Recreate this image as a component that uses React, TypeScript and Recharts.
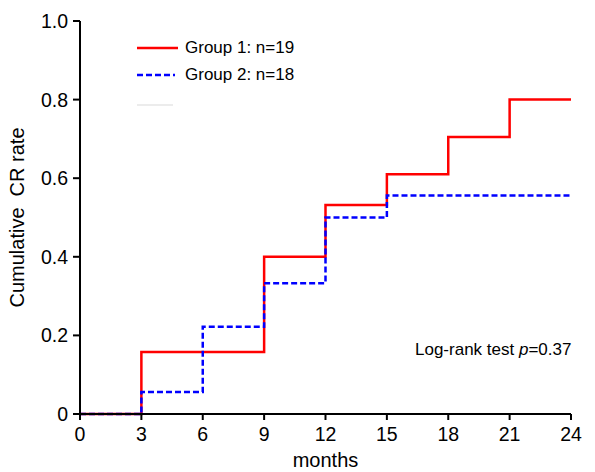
import { Label, Legend, Line, LineChart, XAxis, YAxis } from 'recharts';

// month grid where the Kaplan-Meier steps happen
const months = [0, 3, 6, 9, 12, 15, 18, 21, 24];
const group1 = [0, 0.158, 0.158, 0.4, 0.532, 0.61, 0.705, 0.8, 0.8];
const group2 = [0, 0.056, 0.222, 0.333, 0.5, 0.556, 0.556, 0.556, 0.556];
const yTicks = [0, 0.2, 0.4, 0.6, 0.8, 1.0];
const seriesNames = ['Group 1: n=19', 'Group 2: n=18'];

const data = months.map((m, i) => ({ month: m, g1: group1[i], g2: group2[i] }));

const FONT = '"Liberation Sans", Arial, sans-serif';

function LegendBox() {
  return (
    <div style={{ fontFamily: FONT, fontSize: 17, color: '#000', lineHeight: '27px' }}>
      <div style={{ display: 'flex', alignItems: 'center' }}>
        <svg width={48} height={10}>
          <line x1={0} y1={5} x2={41} y2={5} stroke="#ff0000" strokeWidth={2.5} />
        </svg>
        <span>{seriesNames[0]}</span>
      </div>
      <div style={{ display: 'flex', alignItems: 'center' }}>
        <svg width={48} height={10}>
          <line x1={0} y1={5} x2={38} y2={5} stroke="#0000ff" strokeWidth={2.5} strokeDasharray="6 3" />
        </svg>
        <span>{seriesNames[1]}</span>
      </div>
      <div style={{ display: 'flex', alignItems: 'center', height: 33 }}>
        <svg width={48} height={10}>
          <line x1={0} y1={5} x2={36} y2={5} stroke="#ececec" strokeWidth={2} />
        </svg>
      </div>
    </div>
  );
}

export default function App() {
  return (
    <div style={{ position: 'absolute', left: 0, top: 0, background: '#fff', fontFamily: FONT }}>
      <LineChart width={595} height={472} data={data} margin={{ top: 21, right: 24, bottom: 0, left: 0 }}>
        <XAxis
          dataKey="month"
          type="number"
          domain={[0, 24]}
          ticks={months}
          interval={0}
          height={58}
          axisLine={{ stroke: '#000', strokeWidth: 2 }}
          tickLine={{ stroke: '#000', strokeWidth: 2 }}
          tickSize={6}
          tickMargin={7}
          tick={{ fill: '#000', fontSize: 19.5, fontFamily: FONT }}
        >
          <Label value="months" position="insideBottom" offset={5} fill="#000" fontSize={20} fontFamily={FONT} />
        </XAxis>
        <YAxis
          type="number"
          domain={[0, 1]}
          ticks={yTicks}
          interval={0}
          width={80}
          axisLine={{ stroke: '#000', strokeWidth: 2 }}
          tickLine={{ stroke: '#000', strokeWidth: 2 }}
          tickSize={7}
          tickMargin={5}
          tick={{ fill: '#000', fontSize: 19.5, fontFamily: FONT }}
          tickFormatter={(v: number) => (v === 0 ? '0' : v.toFixed(1))}
        >
          <Label
            value={'Cumulative\u00a0 CR rate'}
            angle={-90}
            position="center"
            dx={-23}
            fill="#000"
            fontSize={20}
            fontFamily={FONT}
          />
        </YAxis>
        <Legend
          content={() => <LegendBox />}
          layout="vertical"
          verticalAlign="middle"
          align="center"
          wrapperStyle={{ left: 137, top: 34, width: 220 }}
        />
        <Line
          type="stepAfter"
          dataKey="g1"
          stroke="#ff0000"
          strokeWidth={2.5}
          dot={false}
          isAnimationActive={false}
        />
        <Line
          type="stepAfter"
          dataKey="g2"
          stroke="#0000ff"
          strokeWidth={2.5}
          strokeDasharray="6 3"
          dot={false}
          isAnimationActive={false}
        />
        <text x={415} y={355} fontSize={17} fontFamily={FONT} fill="#000">
          Log-rank test <tspan fontStyle="italic">p</tspan>=0.37
        </text>
      </LineChart>
    </div>
  );
}
